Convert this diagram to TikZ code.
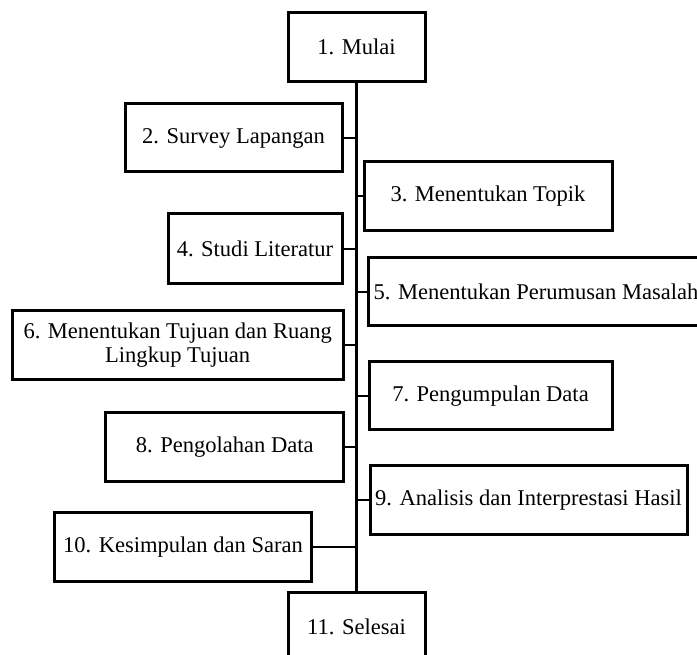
\documentclass[tikz,border=0pt]{standalone}
\usepackage{fontspec}
\setmainfont{Liberation Serif}
\begin{document}
\begin{tikzpicture}[x=0.75pt,y=-0.75pt,
  box/.style={draw, line width=2.25pt, inner sep=0pt, align=center, fill=white,
    font=\fontsize{16.9}{17.6}\selectfont},
  spine/.style={line width=2.4pt},
  link/.style={line width=1.5pt}]
\useasboundingbox (0,0) rectangle (697,655);
\clip (0,0) rectangle (697,655);
\node[box, minimum width=102.75pt, minimum height=51.2pt] (b1) at (356.5,46.9) {1. Mulai};
\node[box, minimum width=162.75pt, minimum height=51pt] (b2) at (233.5,138) {2. Survey Lapangan};
\node[box, minimum width=186pt, minimum height=51.75pt] (b3) at (488,196.5) {3. Menentukan Topik};
\node[box, minimum width=130.5pt, minimum height=52.5pt] (b4) at (255,249) {4. Studi Literatur};
\node[box, minimum width=252pt, minimum height=51pt] (b5) at (536,292) {5. Menentukan Perumusan Masalah};
\node[box, minimum width=248pt, minimum height=51.2pt] (b6) at (177.7,345) {6. Menentukan Tujuan dan Ruang\\Lingkup Tujuan};
\node[box, minimum width=182.25pt, minimum height=51pt] (b7) at (490.5,396) {7. Pengumpulan Data};
\node[box, minimum width=178.5pt, minimum height=51.75pt] (b8) at (224.8,447.2) {8. Pengolahan Data};
\node[box, minimum width=237.75pt, minimum height=51.75pt] (b9) at (528.5,500.5) {9. Analisis dan Interprestasi Hasil};
\node[box, minimum width=193.2pt, minimum height=52.3pt] (b10) at (183,547) {10. Kesimpulan dan Saran};
\node[box, minimum width=102.75pt, minimum height=51pt] (b11) at (356.5,627) {11. Selesai};
\draw[spine] (b1.south) -- (b11.north);
\foreach \b in {b2,b4,b6,b8,b10}
  \draw[link] (\b.east) -- (\b.east -| b1.south);
\foreach \b in {b3,b5,b7,b9}
  \draw[link] (\b.west) -- (\b.west -| b1.south);
\end{tikzpicture}
\end{document}
